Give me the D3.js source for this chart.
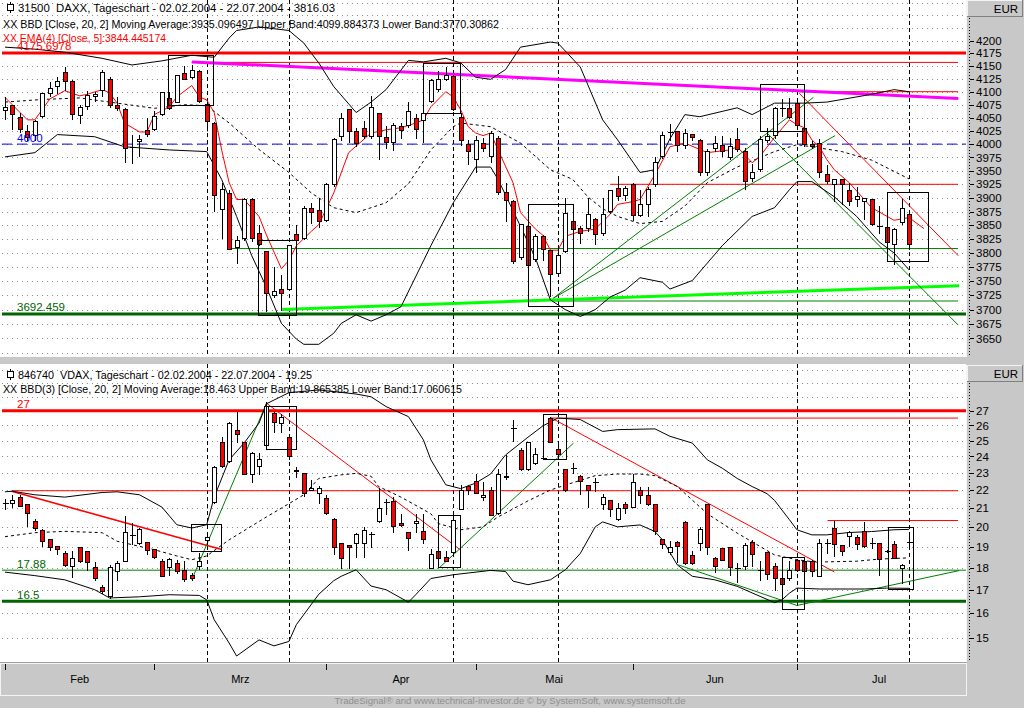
<!DOCTYPE html>
<html>
<head>
<meta charset="utf-8">
<title>DAX / VDAX Tageschart</title>
<script src="https://cdn.jsdelivr.net/npm/d3@7"></script>
<style>
  html, body { margin: 0; padding: 0; background: #c8c8c8; overflow: hidden; }
  svg { display: block; font-family: "Liberation Sans", Arial, sans-serif; }
  text { white-space: pre; }
</style>
</head>
<body>
<svg id="chart" width="1024" height="708"></svg>
<script>
// ---- DAX daily candles, 02.02.2004 - 22.07.2004 (122 trading days)
const daxOpen = [4063,4073,4050,4024,4017,4052,4097,4110,4137,4119,4055,4071,4090,4102,4123,4073,4066,3997,4005,4026,
  4027,4056,4087,4080,4136,4127,4140,4076,4040,3878,3908,3810,3826,3897,3835,3802,3725,3735,3735,3834,3826,3880,3877,
  3859,3925,4014,4065,4023,4030,4014,4059,4012,4003,4033,4035,4049,4045,4081,4105,4124,4130,4051,3999,
  3972,4002,3977,4011,3910,3894,3792,3848,3788,3829,3804,3763,3802,3857,3845,3845,3861,3835,3875,3918,3904,
  3925,3868,3888,3925,3977,4021,4024,3998,4018,4007,3946,3991,3997,3974,4008,3986,3935,3952,4007,4017,4068,4068,
  4078,4030,3999,4001,3944,3925,3933,3913,3897,3894,3897,3851,3846,3816,3855,3870];
const daxHigh = [4090,4075,4059,4036,4045,4098,4118,4128,4148,4122,4074,4101,4100,4143,4128,4090,4068,4017,4017,4050,
  4062,4100,4100,4133,4150,4152,4142,4080,4042,3928,3915,3830,3900,3900,3850,3803,3775,3760,3814,3850,3885,3890,3900,
  3928,4012,4059,4066,4030,4044,4092,4060,4035,4040,4040,4080,4058,4065,4125,4140,4148,4132,4059,4008,
  4015,4012,4025,4015,3927,3896,3853,3850,3835,3833,3805,3810,3900,3860,3848,3900,3863,3900,3915,3940,3922,
  3927,3915,3920,3975,4022,4038,4025,4028,4020,4010,3990,4015,4015,4012,4030,3992,3962,4015,4030,4070,4086,4088,
  4080,4035,4005,4010,3960,3935,3933,3927,3920,3900,3898,3885,3847,3845,3898,3871];
const daxLow = [4045,4027,4021,4005,4005,4050,4089,4095,4101,4046,4038,4065,4080,4089,4068,4062,3965,3962,3976,4013,
  4024,4054,4064,4078,4122,4125,4078,4024,3875,3826,3805,3780,3821,3820,3812,3695,3720,3697,3733,3820,3823,3853,3845,
  3855,3920,4005,4003,3995,4010,4010,3970,3990,3988,4010,4030,4010,4003,4078,4100,4120,4062,3996,3960,
  3946,3985,3965,3905,3855,3780,3788,3775,3784,3785,3722,3760,3800,3835,3816,3838,3815,3830,3870,3895,3895,
  3858,3865,3865,3920,3972,4005,3985,3990,4005,3940,3940,3985,3975,3970,3985,3915,3930,3948,4003,4010,4051,4048,
  4027,3995,3990,3937,3925,3893,3887,3885,3883,3860,3848,3835,3812,3778,3850,3805];
const daxClose = [4070,4056,4028,4013,4043,4096,4107,4120,4120,4057,4070,4093,4095,4138,4073,4067,3991,3995,4008,4018,
  4053,4099,4068,4132,4123,4142,4082,4043,3905,3915,3807,3822,3897,3826,3816,3728,3732,3729,3813,3823,3880,3874,3856,
  3925,4008,4049,4024,4001,4014,4070,4014,4003,4035,4025,4061,4028,4059,4122,4124,4131,4065,4007,3986,
  4007,3992,4020,3909,3895,3785,3851,3778,3829,3807,3761,3795,3872,3842,3835,3869,3833,3869,3913,3902,3918,
  3868,3887,3916,3965,4017,4023,3998,4021,4012,3947,3986,4002,3986,3996,3990,3931,3946,4008,4014,4068,4069,4051,
  4035,3999,3996,3946,3930,3934,3925,3893,3903,3899,3851,3849,3818,3842,3880,3816];

// Bollinger band (20, 2) and EMA: [day index, value]
const daxUpper = [[0,4187],[4,4183],[8,4177],[13,4165],[17,4152],[21,4160],[25,4171],[28,4167],[30,4205],[31,4220],
  [34,4227],[38,4220],[40,4195],[41,4175],[42,4156],[44,4110],[47,4060],[49,4080],[51,4104],[54,4161],[56,4158],
  [59,4165],[61,4156],[63,4128],[65,4124],[67,4143],[69,4187],[73,4197],[74,4195],[77,4148],[80,4046],[82,4008],
  [85,3947],[87,3952],[89,4010],[91,4056],[93,4052],[98,4069],[100,4056],[103,4078],[107,4078],[110,4080],
  [116,4095],[119,4104],[121,4100]];
const daxMiddle = [[0,4080],[5,4085],[10,4088],[15,4078],[20,4068],[24,4075],[27,4073],[30,4040],[34,3990],[38,3947],
  [41,3909],[44,3882],[47,3873],[51,3891],[54,3926],[57,3989],[60,4033],[61,4040],[65,4033],[69,4002],[73,3952],
  [76,3934],[78,3902],[80,3880],[82,3866],[85,3853],[88,3857],[91,3885],[94,3928],[98,3957],[103,3986],[106,3999],
  [108,3995],[112,3986],[116,3970],[121,3935]];
const daxLower = [[0,3976],[4,3984],[7,4018],[12,4014],[16,3995],[22,3989],[27,3986],[29,3934],[31,3866],[33,3796],
  [35,3739],[37,3676],[39,3649],[40,3640],[42,3640],[44,3659],[45,3676],[47,3691],[49,3680],[51,3691],[53,3705],
  [57,3813],[60,3891],[63,3957],[65,3957],[66,3934],[69,3848],[71,3791],[73,3717],[75,3700],[77,3688],[79,3700],
  [81,3722],[83,3734],[85,3756],[88,3748],[89,3736],[92,3751],[96,3813],[100,3866],[103,3882],[105,3915],
  [106,3930],[108,3930],[111,3902],[114,3866],[117,3820],[119,3800],[121,3770]];
const daxEma = [[0,4089],[3,4046],[4,4046],[6,4086],[8,4102],[10,4092],[11,4095],[13,4104],[14,4098],[15,4078],
  [16,4040],[18,4023],[19,4023],[20,4056],[22,4071],[23,4090],[25,4112],[26,4090],[27,4084],[28,4060],[29,3989],
  [30,3928],[31,3897],[32,3897],[34,3866],[35,3832],[37,3772],[38,3787],[39,3813],[41,3839],[42,3851],[44,3909],
  [46,3984],[49,4021],[51,4027],[53,4031],[55,4040],[56,4046],[57,4071],[59,4100],[60,4090],[61,4065],[62,4033],
  [63,4021],[64,4016],[65,4021],[66,3989],[68,3928],[69,3873],[71,3843],[72,3832],[73,3805],[74,3805],[75,3830],
  [77,3839],[79,3843],[81,3870],[82,3888],[84,3893],[85,3897],[87,3943],[89,3995],[91,4002],[94,3984],[97,3989],
  [98,3995],[100,3965],[101,3976],[103,4013],[105,4046],[106,4037],[107,4031],[108,4008],[109,3995],[110,3971],
  [111,3952],[113,3928],[116,3882],[119,3859],[121,3864],[123,3844]];

// drawn levels [value, first day index or -1 for full width], trend lines [i0, v0, i1, v1], boxes [i0, i1, vLow, vHigh]
const daxLevels = [[4175.6978,-1],[4157,25],[4100,106.3],[4000,-1],[3925,81],[3808,29.8],[3715,73.4],[3692.459,-1]];
const daxTrends = [[25,4158,127.6,4087],[37.1,3700,127.7,3742],[106.3,4097,127.6,3795],
  [73.4,3720,108.2,4089],[73.4,3720,111.1,4016],[102,4021,127.6,3673]];
const daxBoxes = [[21.95,27.9,4073,4170],[33.9,39.05,3690,3823],[56,61,4059,4155],[70.05,76.1,3705,3887],
  [101.1,107,4023,4113],[118.1,123.6,3784,3910]];

// ---- VDAX daily candles
const vdaxOpen = [21.2,21.25,21.6,21.2,20.3,19.8,19.35,19.0,18.65,18.05,18.95,18.75,18.0,17.1,16.7,17.8,18.3,19.6,19.15,19.2,
  18.85,18.3,18.0,18.17,17.87,17.65,18.05,19.3,21.3,24.85,23.7,25.65,24.85,22.9,23.4,24.7,26.85,26.15,25.2,23.05,22.95,22.0,21.8,
  21.5,20.4,19.15,19.05,19.15,19.15,19.7,20.3,21.3,21.35,20.2,19.7,20.2,19.75,17.95,18.77,18.5,18.7,20.9,22.2,
  22.5,21.6,22.0,20.7,22.7,25.9,24.35,23.2,23.55,23.85,26.45,24.4,23.2,23.25,22.8,22.25,22.4,21.2,21.4,20.37,21.2,
  21.05,22.0,21.7,21.2,19.35,18.7,19.2,20.25,18.57,19.17,21.2,18.45,18.9,18.95,17.95,18.03,19.2,17.85,18.7,18.05,17.5,17.5,
  18.33,18.3,18.3,17.6,19.15,19.92,19.05,19.5,19.47,19.75,19.15,19.17,18.75,19.1,17.95,19.2];
const vdaxHigh = [21.5,21.7,21.7,21.2,20.4,19.9,19.4,19.0,18.8,18.8,19.0,18.8,18.25,17.2,18.1,18.3,20.55,20.2,19.95,19.25,
  18.9,18.4,18.45,18.35,18.3,17.75,18.7,19.7,23.4,25.25,26.2,26.9,24.9,24.25,24.2,27.6,26.9,26.8,25.4,23.35,23.0,22.6,22.25,
  21.7,20.45,19.15,19.1,19.7,20.0,19.75,22.1,21.5,21.6,20.7,19.75,20.7,20.7,18.9,18.8,18.8,20.7,22.3,22.3,
  22.95,22.45,22.2,23.25,24.1,26.4,24.5,24.9,24.5,24.0,26.55,24.8,23.2,23.6,22.9,22.3,22.7,21.75,21.45,21.3,21.35,
  22.95,22.2,22.2,21.2,19.4,19.3,19.3,20.3,18.8,20.0,21.2,18.5,18.95,19.0,18.2,19.2,19.35,18.3,18.75,18.2,17.5,18.3,
  18.4,18.4,18.35,19.4,19.4,20.3,19.1,19.8,19.6,20.25,19.45,19.2,18.85,19.3,18.15,19.55];
const vdaxLow = [20.9,21.0,21.1,20.0,19.8,19.0,18.8,18.6,18.05,17.5,18.2,17.85,17.4,16.8,16.6,17.4,18.3,19.1,19.1,18.6,
  18.4,17.6,17.6,17.7,17.35,17.4,17.9,19.1,21.2,23.3,23.6,24.85,22.85,22.4,22.9,24.7,25.5,25.5,23.8,22.7,21.6,21.95,21.2,
  20.6,18.6,17.95,17.95,18.45,18.45,18.95,20.2,20.6,19.7,20.0,18.8,19.7,19.15,17.95,18.3,18.3,18.5,20.9,21.7,
  21.8,21.4,20.55,20.65,22.6,24.9,23.1,23.1,23.5,23.8,24.85,23.9,21.9,22.95,21.7,21.0,21.9,20.9,20.5,20.3,20.7,
  21.0,21.2,21.1,19.6,18.9,18.6,18.2,18.1,18.1,18.8,18.6,17.75,18.3,17.6,17.3,17.9,18.05,17.4,17.44,16.95,17.1,17.4,
  17.8,17.6,17.55,17.55,18.65,18.5,18.55,19.0,18.85,18.95,18.9,17.6,18.7,18.4,17.25,18.85];
const vdaxClose = [21.25,21.4,21.1,20.7,19.9,19.25,18.95,18.85,18.1,18.45,18.3,18.25,17.5,16.9,18.0,18.2,19.7,19.6,19.85,18.8,
  18.5,17.6,18.37,17.8,17.45,17.5,18.3,19.45,23.3,23.4,26.1,25.4,22.9,24.2,23.8,27.3,26.2,26.55,24.0,23.15,21.8,22.1,22.1,
  20.7,18.95,18.45,18.95,19.6,19.8,19.65,21.0,21.35,20.0,20.05,19.4,20.3,19.35,18.6,18.45,18.3,20.35,22.0,21.95,
  21.8,21.7,20.6,22.9,22.8,25.8,23.2,24.85,24.1,23.9,24.9,24.1,22.0,23.3,22.5,22.0,22.45,21.6,20.9,20.95,21.0,
  22.45,21.7,21.2,19.75,19.12,18.98,19.0,18.2,18.2,19.88,18.95,18.05,18.35,18.0,17.97,19.06,18.6,17.87,17.7,17.5,17.25,17.87,
  17.85,17.8,17.8,19.17,19.2,19.1,18.77,19.7,19.13,19.0,19.17,18.4,18.78,18.45,18.1,19.25];

const vdaxUpper = [[0,21.9],[1,21.93],[4,21.73],[8,21.6],[13,21.86],[15,21.9],[18,21.73],[21,21.05],[23,20.11],[25,19.94],
  [27,20.11],[28,21.6],[30,23.79],[32,24.84],[34,26.16],[35,27.5],[38,28.3],[42,28.5],[47,28.2],[49,28.0],[51,27.3],
  [54,26.6],[56,25.05],[57,23.79],[59,22.3],[61,22.08],[63,22.4],[65,22.93],[67,24.09],[70,25.22],[72,25.97],[74,26.5],
  [77,26.4],[80,25.6],[82,25.72],[87,25.77],[89,25.28],[92,24.84],[94,23.79],[96,23.28],[98,22.67],[100,22.2],
  [102,21.79],[103,21.42],[105,20.37],[106,19.85],[108,19.59],[110,19.59],[113,19.71],[116,19.76],[119,19.85],[121,19.87]];
const vdaxMiddle = [[0,19.5],[4,19.7],[8,19.77],[13,19.7],[15,19.27],[20,18.85],[23,18.55],[25,18.37],[27,18.55],[30,19.34],
  [35,20.52],[40,21.73],[42,22.67],[45,22.88],[47,22.97],[49,22.8],[50,22.2],[53,21.6],[57,20.69],[58,20.17],[61,19.85],
  [64,20.0],[66,20.52],[70,21.39],[73,22.0],[76,22.42],[79,22.83],[82,22.93],[85,22.93],[87,22.83],[90,22.2],[94,20.69],
  [98,19.68],[103,18.6],[106,18.37],[108,18.28],[110,18.27],[114,18.3],[117,18.4],[121,18.46]];
const vdaxLower = [[0,17.79],[4,17.63],[8,17.44],[12,17.0],[14,16.64],[18,16.69],[22,16.78],[26,16.75],[27,16.56],[28,15.73],
  [30,14.81],[31,14.32],[34,14.93],[36,14.7],[38,14.87],[39,15.53],[42,16.8],[44,17.4],[45,17.6],[47,17.9],[49,17.16],
  [51,17.0],[54,16.46],[55,16.79],[57,17.5],[60,17.67],[65,17.87],[67,17.82],[68,17.38],[70,17.22],[73,17.44],[75,17.9],
  [77,18.67],[79,20.0],[80,20.26],[82,20.0],[85,20.1],[87,19.76],[88,19.34],[90,18.12],[92,17.6],[95,17.44],[98,17.15],
  [100,16.86],[103,16.44],[104,16.56],[105,16.85],[106,17.07],[109,17.03],[115,17.03],[118,17.07],[121,17.06]];

const vdaxLevels = [[27,-1],[26.5,73.1],[21.96,0.9],[20.33,110.1],[17.88,-1],[16.5,-1]];
const vdaxTrends = [[0.9,21.93,29,18.86],[35,27.54,60.9,18.86],[73.1,26.52,111,17.8],[25,17.44,35,27.54],
  [58,17.95,76.1,24.84],[90.1,18.13,106,16.32],[106,16.32,127.7,17.86]];
const vdaxBoxes = [[25,29,18.76,20.12],[35,39.05,24.42,27.3],[58,61,18,20.6],[72.1,75.1,23.82,26.72],
  [104.1,107,16.14,18.5],[118.2,121.6,17,19.98]];

// ---- time axis
const monthNames = ["Feb", "Mrz", "Apr", "Mai", "Jun", "Jul"];
const monthStart = [0, 20, 43, 63, 84, 106, 128];   // first trading day of each month (128 = 2 Aug)
const markerDays = [27, 38, 60, 74, 106, 121];       // dashed vertical markers

const daxTicks = d3.range(3650, 4201, 25);
const vdaxTicks = d3.range(15, 28, 1);

// ---------------------------------------------------------------
const svg = d3.select("#chart");
const plotW = 966;
const x = d3.scaleLinear().domain([0, 121]).range([5, 909]);
const lineEnd = x.invert(958);
const px = i => Math.round(x(i)) + 0.5;

const yTop = d3.scaleLog().domain([3620, 4277]).range([356, 2]);
const yBot = d3.scaleLog().domain([14.1, 30.4]).range([662, 365]);

const RED = "#ff0000", DKGREEN = "#006400", GREEN = "#008000";

svg.append("rect").attr("width", 1024).attr("height", 708).attr("fill", "#c8c8c8");

const defs = svg.append("defs");
defs.append("clipPath").attr("id", "clipTop").append("rect").attr("x", 0).attr("y", 0).attr("width", plotW).attr("height", 357);
defs.append("clipPath").attr("id", "clipBot").append("rect").attr("x", 0).attr("y", 364).attr("width", plotW).attr("height", 299);

function panel(y, top, bottom, clipId, gridVals, ticks) {
  svg.append("rect").attr("x", 0).attr("y", top).attr("width", plotW).attr("height", bottom - top).attr("fill", "#fff");
  const g = svg.append("g").attr("clip-path", `url(#${clipId})`);
  // dotted grid
  g.append("g").selectAll("line").data(gridVals).join("line")
    .attr("x1", 2).attr("x2", plotW)
    .attr("y1", d => Math.round(y(d)) + 0.5).attr("y2", d => Math.round(y(d)) + 0.5)
    .attr("stroke", "#8c8c8c").attr("stroke-dasharray", "1,4");
  // dashed day markers
  g.append("g").selectAll("line").data(markerDays).join("line")
    .attr("x1", px).attr("x2", px).attr("y1", top).attr("y2", bottom)
    .attr("stroke", "#000").attr("stroke-dasharray", "4,3");
  // right axis
  const ax = svg.append("g");
  ax.selectAll("line").data(ticks).join("line")
    .attr("x1", 970).attr("x2", 974)
    .attr("y1", d => Math.round(y(d)) + 0.5).attr("y2", d => Math.round(y(d)) + 0.5)
    .attr("stroke", "#000");
  ax.selectAll("text").data(ticks).join("text")
    .attr("x", 976).attr("y", d => y(d)).attr("dy", "0.36em")
    .attr("font-size", 11.5).attr("fill", "#000").text(d => d);
  return g;
}

function bands(g, y, upper, middle, lower) {
  const line = d3.line().x(d => x(d[0])).y(d => y(d[1]));
  g.append("path").datum(upper).attr("d", line).attr("fill", "none").attr("stroke", "#000");
  g.append("path").datum(lower).attr("d", line).attr("fill", "none").attr("stroke", "#000");
  g.append("path").datum(middle).attr("d", line).attr("fill", "none").attr("stroke", "#000").attr("stroke-dasharray", "3,3");
}

function candles(g, y, open, high, low, close) {
  const c = g.append("g").attr("shape-rendering", "crispEdges");
  const idx = d3.range(close.length);
  const bodyH = i => Math.abs(y(open[i]) - y(close[i]));
  c.selectAll("line.wick").data(idx).join("line").attr("class", "wick")
    .attr("x1", px).attr("x2", px).attr("y1", i => y(high[i])).attr("y2", i => y(low[i]))
    .attr("stroke", "#000");
  c.selectAll("rect").data(idx.filter(i => bodyH(i) >= 1.5)).join("rect")
    .attr("x", i => px(i) - 2).attr("width", 4)
    .attr("y", i => Math.min(y(open[i]), y(close[i]))).attr("height", bodyH)
    .attr("fill", i => close[i] < open[i] ? RED : "#fff").attr("stroke", "#000");
  c.selectAll("line.doji").data(idx.filter(i => bodyH(i) < 1.5)).join("line").attr("class", "doji")
    .attr("x1", i => px(i) - 3).attr("x2", i => px(i) + 3)
    .attr("y1", i => Math.round(y(close[i])) + 0.5).attr("y2", i => Math.round(y(close[i])) + 0.5)
    .attr("stroke", "#000").attr("stroke-width", 1.5);
}

function levels(g, y, lv, styles) {
  g.append("g").selectAll("line").data(lv).join("line")
    .attr("x1", d => d[1] < 0 ? 2 : x(d[1])).attr("x2", d => d[1] < 0 ? plotW : x(lineEnd))
    .attr("y1", d => y(d[0])).attr("y2", d => y(d[0]))
    .attr("stroke", (d, i) => styles[i][0]).attr("stroke-width", (d, i) => styles[i][1])
    .attr("stroke-dasharray", (d, i) => styles[i][2] || null);
}

function trends(g, y, tr, styles) {
  g.append("g").selectAll("line").data(tr).join("line")
    .attr("x1", d => x(d[0])).attr("y1", d => y(d[1]))
    .attr("x2", d => x(d[2])).attr("y2", d => y(d[3]))
    .attr("stroke", (d, i) => styles[i][0]).attr("stroke-width", (d, i) => styles[i][1]);
}

function boxes(g, y, bx) {
  g.append("g").attr("shape-rendering", "crispEdges").selectAll("rect").data(bx).join("rect")
    .attr("x", d => x(d[0])).attr("width", d => x(d[1]) - x(d[0]))
    .attr("y", d => y(d[3])).attr("height", d => y(d[2]) - y(d[3]))
    .attr("fill", "none").attr("stroke", "#000");
}

function levelLabel(g, y, v, txt, color) {
  g.append("text").attr("x", 17).attr("y", y(v) - 2.5).attr("font-size", 11.5).attr("fill", color).text(txt);
}

// ---- top panel: DAX
const gTop = panel(yTop, 0, 357, "clipTop", d3.range(3625, 4300, 25), daxTicks);
levels(gTop, yTop, daxLevels, [[RED, 3], [RED, 1], [RED, 1], ["#0000ff", 1, "10,5"], [RED, 1], [GREEN, 1], [GREEN, 1], [DKGREEN, 3]]);
trends(gTop, yTop, daxTrends, [["#ff00ff", 3], ["#00ff00", 3], [RED, 1], [GREEN, 1], [GREEN, 1], [GREEN, 1]]);
bands(gTop, yTop, daxUpper, daxMiddle, daxLower);
gTop.append("path").datum(daxEma)
  .attr("d", d3.line().x(d => x(d[0])).y(d => yTop(d[1])))
  .attr("fill", "none").attr("stroke", RED);
candles(gTop, yTop, daxOpen, daxHigh, daxLow, daxClose);
boxes(gTop, yTop, daxBoxes);
levelLabel(gTop, yTop, 4175.6978, "4175.6978", RED);
levelLabel(gTop, yTop, 4000, "4000", "#0000ff");
levelLabel(gTop, yTop, 3692.459, "3692.459", DKGREEN);

// ---- bottom panel: VDAX
const gBot = panel(yBot, 364, 662, "clipBot", d3.range(15, 31, 1), vdaxTicks);
levels(gBot, yBot, vdaxLevels, [[RED, 3], [RED, 1], [RED, 1], [RED, 1], [GREEN, 1], [DKGREEN, 3]]);
trends(gBot, yBot, vdaxTrends, [[RED, 1.6], [RED, 1], [RED, 1], [GREEN, 1], [GREEN, 1], [GREEN, 1], [GREEN, 1]]);
bands(gBot, yBot, vdaxUpper, vdaxMiddle, vdaxLower);
candles(gBot, yBot, vdaxOpen, vdaxHigh, vdaxLow, vdaxClose);
boxes(gBot, yBot, vdaxBoxes);
levelLabel(gBot, yBot, 27, "27", RED);
levelLabel(gBot, yBot, 17.88, "17.88", DKGREEN);
levelLabel(gBot, yBot, 16.5, "16.5", DKGREEN);

// ---- headers
function icon(yc) {
  const g = svg.append("g").attr("shape-rendering", "crispEdges");
  g.append("rect").attr("x", 7.5).attr("y", yc - 3.5).attr("width", 6).attr("height", 6).attr("fill", "#fff").attr("stroke", "#000");
  g.append("line").attr("x1", 10.5).attr("x2", 10.5).attr("y1", yc - 6).attr("y2", yc - 3.5).attr("stroke", "#000");
  g.append("line").attr("x1", 10.5).attr("x2", 10.5).attr("y1", yc + 2.5).attr("y2", yc + 5).attr("stroke", "#000");
}
function header(tx, ty, txt, len, color) {
  svg.append("text").attr("x", tx).attr("y", ty).attr("font-size", 11.5).attr("fill", color || "#000")
    .attr("textLength", len).attr("lengthAdjust", "spacingAndGlyphs").text(txt);
}
icon(8);
header(18, 12, "31500  DAXX, Tageschart - 02.02.2004 - 22.07.2004 - 3816.03", 317);
header(3, 28, "XX BBD [Close, 20, 2] Moving Average:3935.096497 Upper Band:4099.884373 Lower Band:3770.30862", 496);
header(3, 42, "XX EMA(4) [Close, 5]:3844.445174", 163, RED);
icon(375);
header(18, 379, "846740  VDAX, Tageschart - 02.02.2004 - 22.07.2004 - 19.25", 294);
header(3, 393, "XX BBD(3) [Close, 20, 2] Moving Average:18.463 Upper Band:19.865385 Lower Band:17.060615", 459);

// ---- right axis frame
[[0, 356], [365, 662]].forEach(([t, b]) => {
  svg.append("line").attr("x1", 966.5).attr("x2", 966.5).attr("y1", t).attr("y2", b + 1).attr("stroke", "#f4f4f4");
  svg.append("line").attr("x1", 969.5).attr("x2", 969.5).attr("y1", t + 18).attr("y2", b)
    .attr("stroke", "#000").attr("stroke-dasharray", "1,2");
  const eb = svg.append("g").attr("shape-rendering", "crispEdges");
  eb.append("rect").attr("x", 967.5).attr("y", t + 0.5).attr("width", 55).attr("height", 16).attr("fill", "#c8c8c8").attr("stroke", "#f4f4f4");
  eb.append("line").attr("x1", 967).attr("x2", 1023).attr("y1", t + 16.5).attr("y2", t + 16.5).attr("stroke", "#808080");
  eb.append("line").attr("x1", 1022.5).attr("x2", 1022.5).attr("y1", t).attr("y2", t + 17).attr("stroke", "#808080");
  svg.append("text").attr("x", 1018).attr("y", t + 13).attr("text-anchor", "end").attr("font-size", 11.5).text("EUR");
});

// ---- time axis
const axis = svg.append("g").attr("shape-rendering", "crispEdges");
axis.append("rect").attr("x", 0.5).attr("y", 663.5).attr("width", 966).attr("height", 32).attr("fill", "#c8c8c8").attr("stroke", "#f4f4f4");
axis.append("line").attr("x1", 0).attr("x2", 967).attr("y1", 662.5).attr("y2", 662.5).attr("stroke", "#a0a0a0");
axis.selectAll("line.tick").data(monthStart.slice(0, 6)).join("line").attr("class", "tick")
  .attr("x1", px).attr("x2", px).attr("y1", 664).attr("y2", 670).attr("stroke", "#000");
svg.append("g").selectAll("text").data(monthNames).join("text")
  .attr("x", (d, i) => x((monthStart[i] + monthStart[i + 1]) / 2))
  .attr("y", 683).attr("text-anchor", "middle").attr("font-size", 11).attr("fill", "#000").text(d => d);

svg.append("text").attr("x", 510).attr("y", 704).attr("text-anchor", "middle").attr("font-size", 9)
  .attr("fill", "#8e8e8e").attr("textLength", 351).attr("lengthAdjust", "spacingAndGlyphs")
  .text("TradeSignal® and www.technical-investor.de © by SystemSoft, www.systemsoft.de");
</script>
</body>
</html>
